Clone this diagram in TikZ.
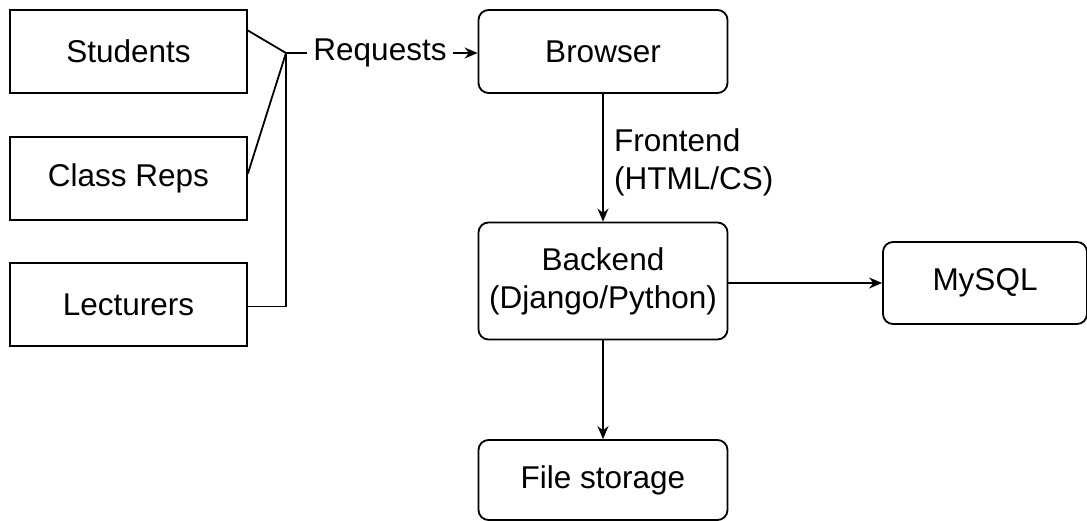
\documentclass[tikz,border=0pt]{standalone}
\usepackage{fontspec}
\setmainfont{Liberation Sans}
\usetikzlibrary{arrows.meta,calc}
\tikzset{
  box/.style={draw, line width=1.8pt, minimum width=237pt, minimum height=83pt, inner sep=0pt},
  rbox/.style={box, rounded corners=10pt, minimum width=249pt},
  link/.style={line width=1.8pt},
  flow/.style={link, -{Stealth[length=13pt,width=11pt]}}
}
\begin{document}
\begin{tikzpicture}[x=1pt, y=-1pt, font=\fontsize{31.5}{38}\selectfont]
  \useasboundingbox (0,0) rectangle (1087,521);
  % users
  \node[box] (students) at (128.5,51.5) {Students};
  \node[box] (classreps) at (128.5,178.5) {Class Reps};
  \node[box] (lecturers) at (128.5,304.5) {Lecturers};
  % system
  \node[rbox] (browser) at (603,51.5) {Browser};
  \node[rbox, minimum height=117pt, align=center] (backend) at (603,281) {Backend\\(Django/Python)};
  \node[rbox, minimum width=204pt, minimum height=82pt] (mysql) at (985,283) {MySQL};
  \node[rbox, minimum height=80pt] (storage) at (603,480) {File storage};
  % requests
  \coordinate (join) at (286,53);
  \node[inner sep=0pt] (requests) at (380,53) {Requests};
  \draw[link] ([yshift=21pt]students.east) -- (join);
  \draw[link] ([yshift=5pt]classreps.east) -- (join);
  \draw[link] ([yshift=-2pt]lecturers.east) -| (join);
  \draw[link] (join) -- ([xshift=-6pt]requests.west);
  \draw[flow] ([xshift=6pt]requests.east) -- (browser.west |- requests.east);
  % flows
  \draw[flow] (browser) -- (backend);
  \node[anchor=west, align=left, inner sep=0pt] (frontend) at (614,162) {Frontend\\(HTML/CS)};
  \draw[flow] (backend.east |- mysql.west) -- (mysql.west);
  \draw[flow] (backend) -- (storage);
\end{tikzpicture}
\end{document}
